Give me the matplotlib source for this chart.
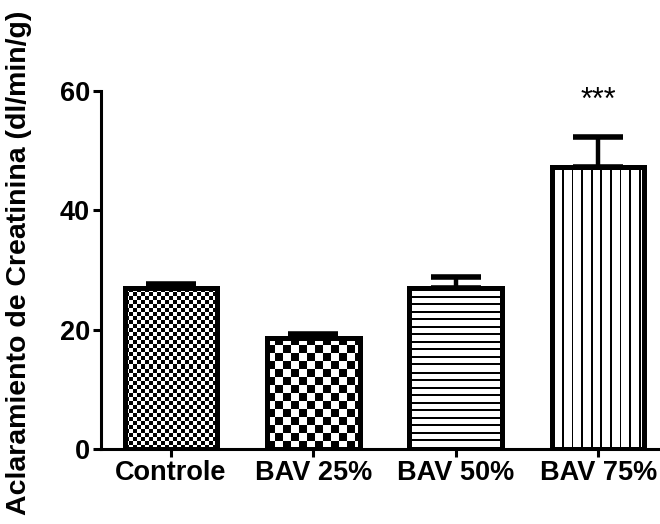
import numpy as np
import matplotlib
matplotlib.use('Agg')
import matplotlib.pyplot as plt

groups = ['Controle', 'BAV 25%', 'BAV 50%', 'BAV 75%']
means = [27.0, 18.6, 27.0, 47.2]
errors = [0.6, 0.7, 1.9, 5.1]
patterns = ['check4', 'check8', 'hlines', 'vlines']
y_ticks = [0, 20, 40, 60]
stars = {3: '***'}


def pattern_image(kind, h, w):
    i, j = np.mgrid[0:h, 0:w]
    if kind == 'check4':
        img = (i // 4 + j // 4) % 2
    elif kind == 'check8':
        img = (i // 8 + j // 8) % 2
    elif kind == 'hlines':
        img = ((i % 7.5) >= 2).astype(int)
    else:
        img = ((j % 9.6) >= 1.8).astype(int)
    return img.astype(float)


plt.rcParams['font.family'] = ['Liberation Sans', 'DejaVu Sans']
plt.rcParams['font.weight'] = 'bold'

fig = plt.figure(figsize=(6.6, 5.24), dpi=100)
ax = fig.add_axes([101 / 660, 1 - 449 / 524, 557 / 660, 358 / 524])

x = np.arange(len(groups))
ax.set_xlim(-0.49, 3.42)
ax.set_ylim(0, 60)

bars = ax.bar(x, means, width=0.65, facecolor='none', edgecolor='black',
              linewidth=3.6, zorder=3)
ax.errorbar(x, means, yerr=[np.zeros(len(errors)), errors], fmt='none',
            ecolor='black', elinewidth=3.2, capsize=18, capthick=4, zorder=2)

fig.canvas.draw()
for bar, kind in zip(bars, patterns):
    x0, y0 = bar.get_x(), bar.get_y()
    x1, y1 = x0 + bar.get_width(), y0 + bar.get_height()
    p0 = ax.transData.transform((x0, y0))
    p1 = ax.transData.transform((x1, y1))
    w = int(round(p1[0] - p0[0]))
    h = int(round(p1[1] - p0[1]))
    img = pattern_image(kind, h, w)
    im = ax.imshow(img, cmap='gray', vmin=0, vmax=1, extent=(x0, x1, y0, y1),
                   origin='lower', interpolation='nearest', aspect='auto', zorder=1)
    im.set_clip_path(bar)

ax.set_xlim(-0.49, 3.42)
ax.set_ylim(0, 60)

for k, s in stars.items():
    ax.text(x[k], 58.3, s, ha='center', va='center', fontsize=22,
            fontweight='normal', clip_on=False)

ax.spines['top'].set_visible(False)
ax.spines['right'].set_visible(False)
ax.spines['left'].set_linewidth(2.2)
ax.spines['bottom'].set_linewidth(2.2)
ax.spines['left'].set_zorder(4)
ax.spines['bottom'].set_zorder(4)

ax.set_yticks(y_ticks)
ax.set_xticks(x)
ax.set_xticklabels(groups)
ax.tick_params(axis='both', direction='out', length=6, width=2.2,
               labelsize=19.5, pad=2)
for lab in ax.get_xticklabels() + ax.get_yticklabels():
    lab.set_fontweight('bold')

ax.set_ylabel('Aclaramiento de Creatinina (dl/min/g)', fontsize=20.5,
              fontweight='bold')
ax.yaxis.set_label_coords(-0.124, 0.52)

fig.savefig('out.png', dpi=100)
